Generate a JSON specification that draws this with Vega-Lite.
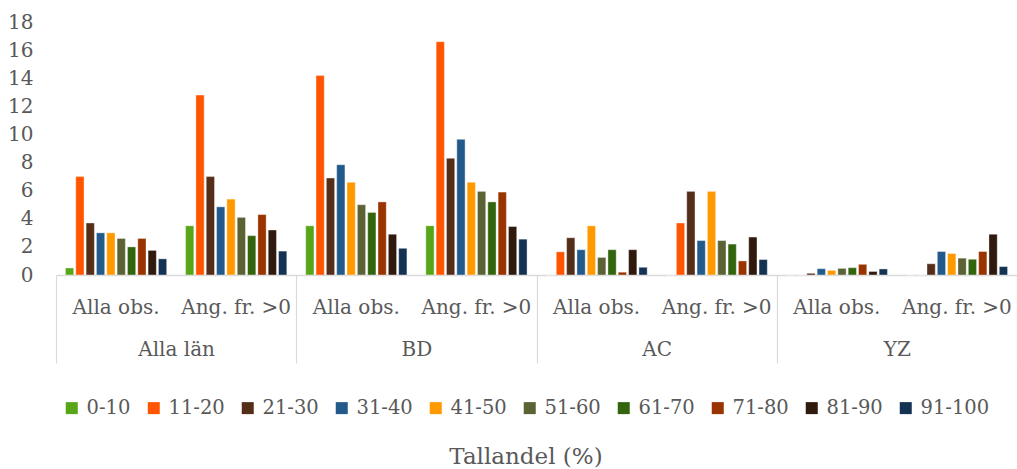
{
  "$schema": "https://vega.github.io/schema/vega-lite/v6.json",
  "width": 961,
  "height": 253,
  "autosize": {"type": "none"},
  "padding": {"left": 56, "top": 22, "right": 0, "bottom": 194},
  "background": "white",
  "config": {
    "font": "DejaVu Serif",
    "view": {"stroke": null},
    "axis": {"labelFont": "DejaVu Serif", "labelColor": "#595959", "labelFontSize": 20, "grid": false}
  },
  "data": {"values": [
    {"r":"Alla län","k":"Alla län|Alla obs.","s":"0-10","v":0.5},
    {"r":"Alla län","k":"Alla län|Alla obs.","s":"11-20","v":7.0},
    {"r":"Alla län","k":"Alla län|Alla obs.","s":"21-30","v":3.7},
    {"r":"Alla län","k":"Alla län|Alla obs.","s":"31-40","v":3.0},
    {"r":"Alla län","k":"Alla län|Alla obs.","s":"41-50","v":3.0},
    {"r":"Alla län","k":"Alla län|Alla obs.","s":"51-60","v":2.6},
    {"r":"Alla län","k":"Alla län|Alla obs.","s":"61-70","v":2.0},
    {"r":"Alla län","k":"Alla län|Alla obs.","s":"71-80","v":2.6},
    {"r":"Alla län","k":"Alla län|Alla obs.","s":"81-90","v":1.75},
    {"r":"Alla län","k":"Alla län|Alla obs.","s":"91-100","v":1.15},
    {"r":"Alla län","k":"Alla län|Ang. fr. >0","s":"0-10","v":3.5},
    {"r":"Alla län","k":"Alla län|Ang. fr. >0","s":"11-20","v":12.8},
    {"r":"Alla län","k":"Alla län|Ang. fr. >0","s":"21-30","v":7.0},
    {"r":"Alla län","k":"Alla län|Ang. fr. >0","s":"31-40","v":4.85},
    {"r":"Alla län","k":"Alla län|Ang. fr. >0","s":"41-50","v":5.4},
    {"r":"Alla län","k":"Alla län|Ang. fr. >0","s":"51-60","v":4.1},
    {"r":"Alla län","k":"Alla län|Ang. fr. >0","s":"61-70","v":2.8},
    {"r":"Alla län","k":"Alla län|Ang. fr. >0","s":"71-80","v":4.3},
    {"r":"Alla län","k":"Alla län|Ang. fr. >0","s":"81-90","v":3.2},
    {"r":"Alla län","k":"Alla län|Ang. fr. >0","s":"91-100","v":1.7},
    {"r":"BD","k":"BD|Alla obs.","s":"0-10","v":3.5},
    {"r":"BD","k":"BD|Alla obs.","s":"11-20","v":14.2},
    {"r":"BD","k":"BD|Alla obs.","s":"21-30","v":6.9},
    {"r":"BD","k":"BD|Alla obs.","s":"31-40","v":7.85},
    {"r":"BD","k":"BD|Alla obs.","s":"41-50","v":6.6},
    {"r":"BD","k":"BD|Alla obs.","s":"51-60","v":5.0},
    {"r":"BD","k":"BD|Alla obs.","s":"61-70","v":4.45},
    {"r":"BD","k":"BD|Alla obs.","s":"71-80","v":5.2},
    {"r":"BD","k":"BD|Alla obs.","s":"81-90","v":2.9},
    {"r":"BD","k":"BD|Alla obs.","s":"91-100","v":1.9},
    {"r":"BD","k":"BD|Ang. fr. >0","s":"0-10","v":3.5},
    {"r":"BD","k":"BD|Ang. fr. >0","s":"11-20","v":16.6},
    {"r":"BD","k":"BD|Ang. fr. >0","s":"21-30","v":8.3},
    {"r":"BD","k":"BD|Ang. fr. >0","s":"31-40","v":9.65},
    {"r":"BD","k":"BD|Ang. fr. >0","s":"41-50","v":6.6},
    {"r":"BD","k":"BD|Ang. fr. >0","s":"51-60","v":5.95},
    {"r":"BD","k":"BD|Ang. fr. >0","s":"61-70","v":5.2},
    {"r":"BD","k":"BD|Ang. fr. >0","s":"71-80","v":5.9},
    {"r":"BD","k":"BD|Ang. fr. >0","s":"81-90","v":3.45},
    {"r":"BD","k":"BD|Ang. fr. >0","s":"91-100","v":2.55},
    {"r":"AC","k":"AC|Alla obs.","s":"0-10","v":0},
    {"r":"AC","k":"AC|Alla obs.","s":"11-20","v":1.65},
    {"r":"AC","k":"AC|Alla obs.","s":"21-30","v":2.65},
    {"r":"AC","k":"AC|Alla obs.","s":"31-40","v":1.8},
    {"r":"AC","k":"AC|Alla obs.","s":"41-50","v":3.5},
    {"r":"AC","k":"AC|Alla obs.","s":"51-60","v":1.25},
    {"r":"AC","k":"AC|Alla obs.","s":"61-70","v":1.8},
    {"r":"AC","k":"AC|Alla obs.","s":"71-80","v":0.2},
    {"r":"AC","k":"AC|Alla obs.","s":"81-90","v":1.8},
    {"r":"AC","k":"AC|Alla obs.","s":"91-100","v":0.55},
    {"r":"AC","k":"AC|Ang. fr. >0","s":"0-10","v":0},
    {"r":"AC","k":"AC|Ang. fr. >0","s":"11-20","v":3.7},
    {"r":"AC","k":"AC|Ang. fr. >0","s":"21-30","v":5.95},
    {"r":"AC","k":"AC|Ang. fr. >0","s":"31-40","v":2.45},
    {"r":"AC","k":"AC|Ang. fr. >0","s":"41-50","v":5.95},
    {"r":"AC","k":"AC|Ang. fr. >0","s":"51-60","v":2.45},
    {"r":"AC","k":"AC|Ang. fr. >0","s":"61-70","v":2.2},
    {"r":"AC","k":"AC|Ang. fr. >0","s":"71-80","v":1.0},
    {"r":"AC","k":"AC|Ang. fr. >0","s":"81-90","v":2.7},
    {"r":"AC","k":"AC|Ang. fr. >0","s":"91-100","v":1.1},
    {"r":"YZ","k":"YZ|Alla obs.","s":"0-10","v":0},
    {"r":"YZ","k":"YZ|Alla obs.","s":"11-20","v":0},
    {"r":"YZ","k":"YZ|Alla obs.","s":"21-30","v":0.12},
    {"r":"YZ","k":"YZ|Alla obs.","s":"31-40","v":0.45},
    {"r":"YZ","k":"YZ|Alla obs.","s":"41-50","v":0.33},
    {"r":"YZ","k":"YZ|Alla obs.","s":"51-60","v":0.47},
    {"r":"YZ","k":"YZ|Alla obs.","s":"61-70","v":0.52},
    {"r":"YZ","k":"YZ|Alla obs.","s":"71-80","v":0.76},
    {"r":"YZ","k":"YZ|Alla obs.","s":"81-90","v":0.25},
    {"r":"YZ","k":"YZ|Alla obs.","s":"91-100","v":0.43},
    {"r":"YZ","k":"YZ|Ang. fr. >0","s":"0-10","v":0},
    {"r":"YZ","k":"YZ|Ang. fr. >0","s":"11-20","v":0},
    {"r":"YZ","k":"YZ|Ang. fr. >0","s":"21-30","v":0.8},
    {"r":"YZ","k":"YZ|Ang. fr. >0","s":"31-40","v":1.67},
    {"r":"YZ","k":"YZ|Ang. fr. >0","s":"41-50","v":1.53},
    {"r":"YZ","k":"YZ|Ang. fr. >0","s":"51-60","v":1.2},
    {"r":"YZ","k":"YZ|Ang. fr. >0","s":"61-70","v":1.12},
    {"r":"YZ","k":"YZ|Ang. fr. >0","s":"71-80","v":1.67},
    {"r":"YZ","k":"YZ|Ang. fr. >0","s":"81-90","v":2.9},
    {"r":"YZ","k":"YZ|Ang. fr. >0","s":"91-100","v":0.6}
  ]},
  "layer": [
    {
      "mark": {"type": "bar", "stroke": "#ffffff", "strokeWidth": 0.75, "strokeOpacity": 0.5},
      "encoding": {
        "x": {
          "field": "k", "type": "nominal", "sort": null,
          "scale": {"paddingInner": 0.14, "paddingOuter": 0.07},
          "axis": {
            "title": null, "ticks": false, "labelAngle": 0, "labelPadding": 22,
            "domainColor": "#d9d9d9", "domainWidth": 1.5,
            "labelExpr": "split(datum.label, '|')[1]"
          }
        },
        "xOffset": {
          "field": "s", "type": "nominal", "sort": null,
          "scale": {"paddingInner": 0.2, "paddingOuter": 0.1}
        },
        "y": {
          "field": "v", "type": "quantitative",
          "scale": {"domain": [0, 18], "nice": false},
          "axis": {
            "title": null, "values": [0, 2, 4, 6, 8, 10, 12, 14, 16, 18],
            "domain": false, "ticks": false, "labelPadding": 23
          }
        },
        "color": {
          "field": "s", "type": "nominal", "sort": null,
          "scale": {
            "domain": ["0-10","11-20","21-30","31-40","41-50","51-60","61-70","71-80","81-90","91-100"],
            "range": ["#58a518","#ff5500","#542e18","#235a8c","#ff9900","#5b6335","#33640e","#993300","#301a0e","#143353"]
          },
          "legend": {
            "title": "Tallandel (%)",
            "orient": "none", "direction": "horizontal",
            "legendX": 6, "legendY": 376,
            "padding": 0,
            "symbolType": "square", "symbolSize": 144, "symbolStrokeWidth": 0,
            "labelFont": "DejaVu Serif", "labelFontSize": 19.5, "labelColor": "#595959",
            "labelOffset": 5, "columnPadding": 13,
            "titleOrient": "bottom", "titleAnchor": "middle",
            "titleFont": "DejaVu Serif", "titleFontSize": 23, "titleFontWeight": "normal",
            "titleColor": "#595959", "titlePadding": 28
          }
        }
      }
    },
    {
      "mark": {"type": "point", "opacity": 0},
      "encoding": {
        "x": {
          "field": "r", "type": "nominal", "sort": null,
          "scale": {"paddingInner": 0, "paddingOuter": 0},
          "axis": {
            "title": null, "orient": "bottom", "labelAngle": 0,
            "domain": false, "ticks": true, "tickBand": "extent",
            "tickSize": 88, "tickColor": "#d9d9d9", "tickWidth": 1.2,
            "labelPadding": -24
          }
        }
      }
    }
  ],
  "resolve": {"scale": {"x": "independent"}, "axis": {"x": "independent"}}
}
